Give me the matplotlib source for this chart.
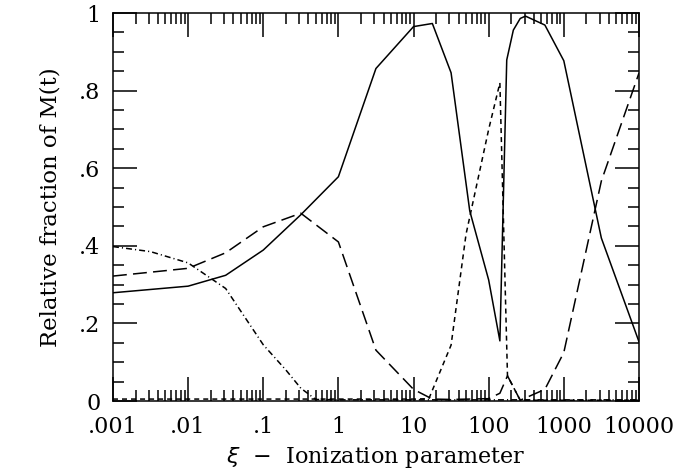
import matplotlib
matplotlib.use('Agg')
import matplotlib.pyplot as plt
from matplotlib.ticker import FixedLocator, LogLocator, NullFormatter

# values
x_ticks = [0.001, 0.01, 0.1, 1, 10, 100, 1000, 10000]
x_labels = ['.001', '.01', '.1', '1', '10', '100', '1000', '10000']
y_ticks = [0, 0.2, 0.4, 0.6, 0.8, 1.0]
y_labels = ['0', '.2', '.4', '.6', '.8', '1']

solid_x = [0.001, 0.01, 0.0316, 0.1, 0.316, 1, 3.16, 10, 17.8, 31.6, 56, 100,
           141, 174, 213, 263, 309, 560, 1000, 3160, 10000]
solid_y = [0.279, 0.296, 0.324, 0.389, 0.48, 0.578, 0.857, 0.965, 0.973, 0.846,
           0.49, 0.312, 0.155, 0.879, 0.956, 0.986, 0.992, 0.969, 0.877, 0.42, 0.153]

long_x = [0.001, 0.01, 0.0316, 0.1, 0.316, 1, 3.16, 10, 17.8, 31.6, 100, 141,
          178, 263, 560, 1000, 3160, 10000]
long_y = [0.322, 0.342, 0.382, 0.449, 0.484, 0.41, 0.131, 0.03, 0.005, 0.004,
          0.006, 0.02, 0.065, 0.002, 0.03, 0.125, 0.567, 0.845]

short_x = [0.001, 0.01, 0.1, 1, 10, 16, 31.6, 50, 100, 141, 178, 263, 1000, 10000]
short_y = [0.005, 0.005, 0.005, 0.005, 0.005, 0.006, 0.144, 0.43, 0.70, 0.82,
           0.065, 0.002, 0.002, 0.002]

dd_x = [0.001, 0.00316, 0.01, 0.0316, 0.1, 0.2, 0.316, 0.5, 1, 10000]
dd_y = [0.398, 0.385, 0.356, 0.29, 0.145, 0.08, 0.033, 0.004, 0.003, 0.003]

plt.rcParams['font.family'] = 'DejaVu Serif'
plt.rcParams['lines.scale_dashes'] = False

fig = plt.figure(figsize=(6.88, 4.70), dpi=100)
ax = fig.add_axes([0.1642, 0.1468, 0.7645, 0.8255])

lw = 1.1
ax.plot(solid_x, solid_y, color='black', lw=lw)
ax.plot(long_x, long_y, color='black', lw=lw, dashes=(10, 4.5))
ax.plot(short_x, short_y, color='black', lw=lw, dashes=(3.6, 2.9))
ax.plot(dd_x, dd_y, color='black', lw=lw, dashes=(4.3, 2.2, 0.8, 2.2))

ax.set_xscale('log')
ax.set_xlim(0.001, 10000)
ax.set_ylim(0, 1)

ax.xaxis.set_major_locator(FixedLocator(x_ticks))
ax.set_xticklabels(x_labels)
ax.xaxis.set_minor_locator(LogLocator(base=10, subs=range(2, 10), numticks=20))
ax.xaxis.set_minor_formatter(NullFormatter())
ax.set_yticks(y_ticks)
ax.set_yticklabels(y_labels)
ax.yaxis.set_minor_locator(FixedLocator([i * 0.05 for i in range(21)]))

for s in ax.spines.values():
    s.set_linewidth(1.1)
ax.tick_params(which='both', direction='in', top=True, right=True, width=1.1,
               labelsize=16, colors='black')
ax.tick_params(which='major', length=17)
ax.tick_params(which='minor', length=8)
ax.tick_params(axis='x', which='major', pad=11)
ax.tick_params(axis='y', which='major', pad=9)

ax.set_xlabel(r'$\xi$  $-$  Ionization parameter', fontsize=16, labelpad=5)
ax.set_ylabel('Relative fraction of M(t)', fontsize=16.5, labelpad=13)

fig.savefig('out.png', dpi=100)
